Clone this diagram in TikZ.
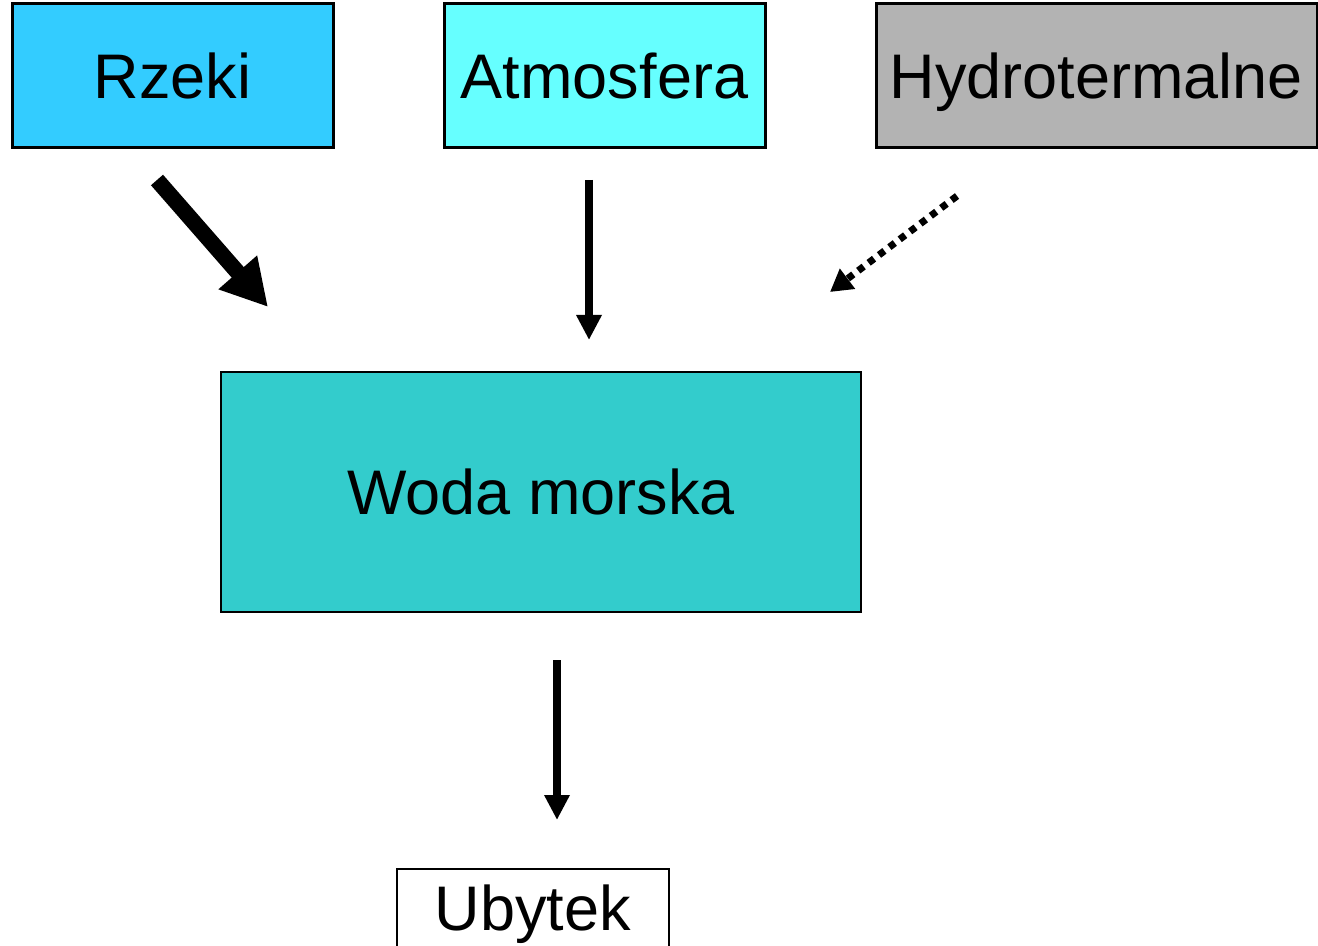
\documentclass[tikz,border=0pt]{standalone}
\usepackage{fontspec}
\setmainfont{Liberation Sans}
\usepackage{tikz}
\usetikzlibrary{arrows.meta,positioning}
\usepackage{xcolor}
\definecolor{rzekicol}{HTML}{33CCFF}
\definecolor{atmcol}{HTML}{66FFFF}
\definecolor{hydrocol}{HTML}{B3B3B3}
\definecolor{wodacol}{HTML}{33CCCC}

\begin{document}
\begin{tikzpicture}[
  x=0.5pt, y=-0.5pt,
  font=\fontsize{31.5}{38}\selectfont,
  source/.style={draw,line width=1.5pt,inner sep=0pt,minimum height=72pt,align=center,
    text height=23pt,text depth=0pt},
  sink/.style={draw,line width=0.75pt,inner sep=0pt,align=center},
  bigflow/.style={-{Triangle[length=23pt,width=24pt]},line width=8pt},
  flow/.style={-{Triangle[length=12.5pt,width=12pt]},line width=4pt},
  weakflow/.style={-{Triangle[length=11pt,width=12pt]},line width=3.5pt,dash pattern=on 3.4pt off 3.1pt}
]
\useasboundingbox (0,0) rectangle (1318,946);

% Sources along the top row; the last one runs off the right edge.
\node[source,fill=rzekicol,minimum width=160.5pt] (rzeki) at (172.5,76) {Rzeki};
\node[source,fill=atmcol,minimum width=160.5pt] (atm) at (604.5,76) {Atmosfera};
\node[source,fill=hydrocol,minimum width=220.5pt] (hydro) at (1096.5,76) {Hydrotermalne};

% Central reservoir and the sink below it (cut by the bottom edge).
\node[sink,fill=wodacol,minimum width=320pt,minimum height=120pt] (woda) at (541,492) {Woda morska};
\node[sink,fill=white,anchor=north,minimum width=136pt,inner ysep=9.5pt,
  text height=21.5pt,text depth=30pt] (ubytek) at (533,868) {Ubytek};

% Free ends of the flux arrows, in the gaps between the boxes.
\coordinate (rzeki-out) at (157,180);
\coordinate (rzeki-in) at (268,307);
\coordinate (atm-out) at (589,180);
\coordinate (atm-in) at (589,340);
\coordinate (hydro-out) at (957,196);
\coordinate (hydro-in) at (830,292);
\coordinate (woda-out) at (557,660);
\coordinate (ubytek-in) at (557,820);

\draw[bigflow] (rzeki-out) -- (rzeki-in);
\draw[flow] (atm-out) -- (atm-in);
\draw[weakflow] (hydro-out) -- (hydro-in);
\draw[flow] (woda-out) -- (ubytek-in);
\end{tikzpicture}
\end{document}
